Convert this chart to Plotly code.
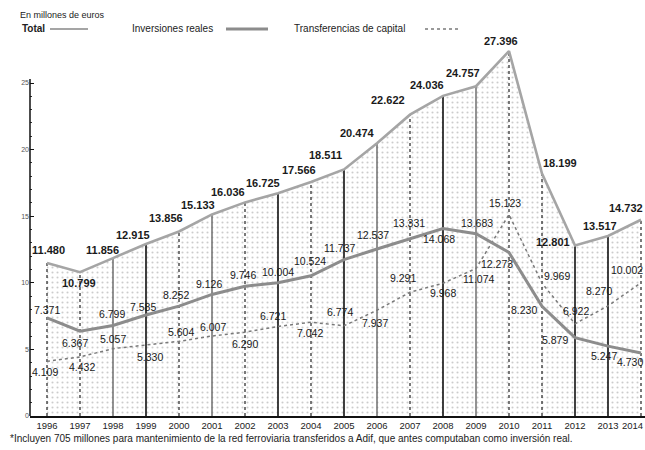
import plotly.graph_objects as go

# ---------------- data ----------------
years = list(range(1996, 2015))
total = [11.480, 10.799, 11.856, 12.915, 13.856, 15.133, 16.036, 16.725, 17.566, 18.511,
         20.474, 22.622, 24.036, 24.757, 27.396, 18.199, 12.801, 13.517, 14.732]
inversiones = [7.371, 6.367, 6.799, 7.585, 8.252, 9.126, 9.746, 10.004, 10.524, 11.737,
               12.537, 13.331, 14.068, 13.683, 12.273, 8.230, 5.879, 5.247, 4.730]
transferencias = [4.109, 4.432, 5.057, 5.330, 5.604, 6.007, 6.290, 6.721, 7.042, 6.774,
                  7.937, 9.291, 9.968, 11.074, 15.123, 9.969, 6.922, 8.270, 10.002]
y_ticks = [0, 5, 10, 15, 20, 25]
year_labels = [str(y) for y in years]

# ---------------- label offsets (px, styling) ----------------
tot_dx = [1, -1, -11, -13, -13, -14, -17, -15, -12, -19, -20, -22, -16, -13, -8, 18, -22, -8, 4]
tot_dy = [13, -11, 8, 9, 13, 9, 10, 10, 12, 14, 10, 15, 11, 13, 10, 11, 3, 10, 12]
inv_dx = [0, -5, -1, -3, -3, -3, -2, 0, -1, -5, -4, -1, -4, 1, -12, -18, -20, -4, 4]
inv_dy = [8, -12, 11, 8, 11, 10, 11, 11, 15, 12, 14, 15, -10, 11, -11, -4, -2, -10, -9]
tr_dx = [-2, 2, 0, 4, 2, 1, 0, -5, -1, -4, -2, -7, 0, 2, -4, 15, 1, -9, 4]
tr_dy = [-11, -10, 10, -12, 9, 9, -12, 10, -11, 14, -13, 14, -10, -11, 12, 7, 13, 15, 13]

solid_black = [1999, 2003, 2005, 2008, 2012, 2013]
solid_grey = [1998, 2001, 2006, 2009]

FONT = "Liberation Sans, Arial, sans-serif"

# plot geometry (pixels)
W, H = 645, 450
L, R, T, B = 30, 0, 40, 34
PW, PH = W - L - R, H - T - B
PX_PER_YEAR = 33.0
x0 = 1996 - (47 - L) / PX_PER_YEAR
x1 = x0 + PW / PX_PER_YEAR
PX_PER_UNIT = 13.32
ytop = PH / PX_PER_UNIT


def px(xp):
    return (xp - L) / PW


def py(yp):
    return (H - B - yp) / PH


fig = go.Figure()

# dotted fill under total
fig.add_trace(go.Scatter(
    x=years, y=total, mode="lines", line=dict(width=0, color="rgba(0,0,0,0)"),
    fill="tozeroy", fillcolor="rgba(0,0,0,0)",
    fillpattern=dict(shape=".", fgcolor="#9a9a9a", bgcolor="white", size=5, solidity=0.14),
    hoverinfo="skip", showlegend=False))


def vlines(sel):
    xs, ys = [], []
    for yr, t in zip(years, total):
        if sel(yr):
            xs += [yr, yr, None]
            ys += [0, t, None]
    return xs, ys


xs, ys = vlines(lambda yr: yr in solid_black)
fig.add_trace(go.Scatter(x=xs, y=ys, mode="lines", line=dict(color="#111", width=1.6),
                         hoverinfo="skip", showlegend=False))
xs, ys = vlines(lambda yr: yr in solid_grey)
fig.add_trace(go.Scatter(x=xs, y=ys, mode="lines", line=dict(color="#666", width=1.4),
                         hoverinfo="skip", showlegend=False))
xs, ys = vlines(lambda yr: yr not in solid_black and yr not in solid_grey)
fig.add_trace(go.Scatter(x=xs, y=ys, mode="lines", line=dict(color="#222", width=1.2, dash="dot"),
                         hoverinfo="skip", showlegend=False))

# series lines
fig.add_trace(go.Scatter(x=years, y=transferencias, mode="lines",
                         line=dict(color="#7a7a7a", width=1.5, dash="dot"), showlegend=False))
fig.add_trace(go.Scatter(x=years, y=inversiones, mode="lines",
                         line=dict(color="#8c8c8c", width=3), showlegend=False))
fig.add_trace(go.Scatter(x=years, y=total, mode="lines",
                         line=dict(color="#a5a5a5", width=2.6), showlegend=False))

annotations = []


def add_labels(vals, dxs, dys, bold):
    n = len(years)
    for i, (yr, v, dx, dy) in enumerate(zip(years, vals, dxs, dys)):
        txt = f"{v:.3f}"
        if bold:
            txt = f"<b>{txt}</b>"
        annotations.append(dict(x=yr, y=v, xref="x", yref="y", text=txt, showarrow=False,
                                xshift=dx, yshift=dy,
                                xanchor="right" if i == n - 1 else "center", yanchor="middle",
                                font=dict(family=FONT, size=11 if bold else 10.5, color="#1a1a1a")))


add_labels(total, tot_dx, tot_dy, True)
add_labels(inversiones, inv_dx, inv_dy, False)
add_labels(transferencias, tr_dx, tr_dy, False)

# last year label (kept inside the page)
annotations.append(dict(x=years[-1], y=0, xref="x", yref="y", text=year_labels[-1], showarrow=False,
                        xanchor="right", yanchor="top", xshift=4, yshift=-2,
                        font=dict(family=FONT, size=9.5, color="#222")))

# header texts
annotations.append(dict(xref="paper", yref="paper", x=px(18), y=py(15), text="En millones de euros",
                        showarrow=False, xanchor="left", yanchor="middle",
                        font=dict(family=FONT, size=9, color="#222")))
annotations.append(dict(xref="paper", yref="paper", x=px(20), y=py(29), text="<b>Total</b>",
                        showarrow=False, xanchor="left", yanchor="middle",
                        font=dict(family=FONT, size=10, color="#222")))
annotations.append(dict(xref="paper", yref="paper", x=px(130), y=py(29), text="Inversiones reales",
                        showarrow=False, xanchor="left", yanchor="middle",
                        font=dict(family=FONT, size=10, color="#222")))
annotations.append(dict(xref="paper", yref="paper", x=px(292), y=py(29), text="Transferencias de capital",
                        showarrow=False, xanchor="left", yanchor="middle",
                        font=dict(family=FONT, size=10, color="#222")))
# footnote
annotations.append(dict(xref="paper", yref="paper", x=px(8), y=py(438),
                        text="*Incluyen 705 millones para mantenimiento de la red ferroviaria transferidos a Adif, que antes computaban como inversión real.",
                        showarrow=False, xanchor="left", yanchor="middle",
                        font=dict(family=FONT, size=10, color="#222")))

shapes = [
    # y axis line from 0 to 25
    dict(type="line", xref="paper", yref="y", x0=0, x1=0, y0=0, y1=25.3,
         line=dict(color="#111", width=1.5)),
    # legend samples
    dict(type="line", xref="paper", yref="paper", x0=px(50), x1=px(88), y0=py(29), y1=py(29),
         line=dict(color="#a5a5a5", width=2.2)),
    dict(type="line", xref="paper", yref="paper", x0=px(226), x1=px(268), y0=py(29), y1=py(29),
         line=dict(color="#8c8c8c", width=2.8)),
    dict(type="line", xref="paper", yref="paper", x0=px(425), x1=px(460), y0=py(29), y1=py(29),
         line=dict(color="#7a7a7a", width=1.5, dash="dot")),
]

fig.update_layout(
    width=W, height=H,
    margin=dict(l=L, r=R, t=T, b=B, pad=0),
    paper_bgcolor="white", plot_bgcolor="white",
    font=dict(family=FONT, color="#222"),
    showlegend=False,
    hovermode=False,
    annotations=annotations,
    shapes=shapes,
    xaxis=dict(range=[x0, x1], tickvals=years[:-1], ticktext=year_labels[:-1],
               showgrid=False, zeroline=False, showline=True, linecolor="#111", linewidth=1.5,
               ticks="", tickfont=dict(family=FONT, size=9.5, color="#222"), automargin=False),
    yaxis=dict(range=[0, ytop], tickvals=y_ticks, ticktext=[str(v) for v in y_ticks],
               showgrid=False, zeroline=False, showline=False,
               ticks="inside", ticklen=4, tickcolor="#111", tickwidth=1,
               minor=dict(tickvals=list(range(0, 26)), ticks="inside", ticklen=2, tickcolor="#333"),
               tickfont=dict(family=FONT, size=7, color="#555"), automargin=False),
)

fig.write_html("out.html", config={"displayModeBar": False},
               post_script="document.body.style.margin='0px';document.body.style.overflow='hidden';")
